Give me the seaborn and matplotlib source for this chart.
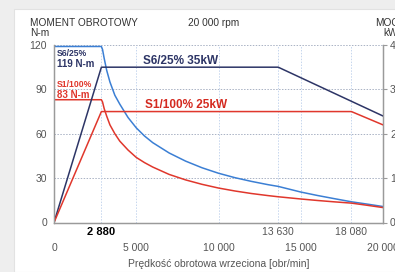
import numpy as np
import pandas as pd
import matplotlib
matplotlib.use("Agg")
import matplotlib.pyplot as plt
from matplotlib.patches import Rectangle
import seaborn as sns

# dane
rpm_torque = [0, 2880, 2950, 3050, 3200, 3400, 3700, 4000, 4500, 5000, 5500, 6000, 7000, 8000, 9000,
              10000, 11000, 12000, 13000, 13630, 15000, 16000, 17000, 18080, 19000, 20000]
s6_torque = [119, 119, 117, 111, 103, 95, 86, 80, 71, 64, 58.5, 54, 47, 41.5, 37,
             33.3, 30.3, 27.8, 25.6, 24.4, 20.6, 18.3, 16.2, 14.0, 12.5, 10.8]
s1_torque = [83, 83, 81.5, 77, 72, 66, 60, 55, 49, 44, 40.5, 37.5, 32.5, 28.8, 25.8,
             23.3, 21.3, 19.6, 18.2, 17.4, 15.9, 14.9, 14.0, 13.1, 11.7, 10.1]

rpm_s6_power = [0, 2880, 13630, 20000]
s6_power = [0, 35, 35, 24]
rpm_s1_power = [0, 2880, 18080, 20000]
s1_power = [0, 25, 25, 22]

major_x = [0, 5000, 10000, 15000, 20000]
major_x_labels = ["0", "5 000", "10 000", "15 000", "20 000"]
special_x = [2880, 13630, 18080]
special_x_labels = ["2 880", "13 630", "18 080"]

NAVY = "#2d3566"
BLUE = "#3b7fd4"
RED = "#e0372c"
GRAY = "#555555"

sns.set_theme(style="white")
plt.rcParams["font.family"] = ["Liberation Sans", "DejaVu Sans"]

fig = plt.figure(figsize=(3.95, 2.72), dpi=100)
fig.patch.set_facecolor("#eeeeee")
fig.patches.append(Rectangle((14 / 395, 0), 1, 1 - 9 / 272, transform=fig.transFigure,
                             facecolor="white", edgecolor="#e2e2e2", lw=0.8, zorder=-5))

ax = fig.add_axes([54 / 395, 1 - 222.5 / 272, 329 / 395, 177.5 / 272])
ax.set_facecolor("none")
ax2 = ax.twinx()

df_t = pd.DataFrame({"rpm": rpm_torque, "s6": s6_torque, "s1": s1_torque})
sns.lineplot(data=df_t, x="rpm", y="s6", ax=ax, color=BLUE, lw=1.1, sort=False, estimator=None)
sns.lineplot(data=df_t, x="rpm", y="s1", ax=ax, color=RED, lw=1.1, sort=False, estimator=None)

sns.lineplot(x=rpm_s6_power, y=s6_power, ax=ax2, color=NAVY, lw=1.1, sort=False, estimator=None)
sns.lineplot(x=rpm_s1_power, y=s1_power, ax=ax2, color=RED, lw=1.1, sort=False, estimator=None)

ax.set_xlim(0, 20000)
ax.set_ylim(0, 120)
ax2.set_ylim(0, 40)
ax2.set_ylabel("")

# siatka
for v in [30, 60, 90, 120]:
    ax.axhline(v, color="#a9b2c4", lw=0.7, ls=(0, (1.5, 1.5)), zorder=0)
for v in [2880, 5000, 10000, 13630, 15000, 18080]:
    ax.axvline(v, color="#c6d6ee", lw=0.7, ls=(0, (1.5, 1.5)), zorder=0)

for a in (ax, ax2):
    a.spines["top"].set_visible(False)
    for s in ["left", "bottom", "right"]:
        a.spines[s].set_color("#9a9a9a")
        a.spines[s].set_linewidth(0.9)

ax.set_yticks([0, 30, 60, 90, 120])
ax.tick_params(axis="y", labelsize=7.5, colors=GRAY, length=0, pad=5)
ax2.set_yticks([0, 10, 20, 30, 40])
ax2.tick_params(axis="y", labelsize=7.5, colors=GRAY, length=3, width=0.8,
                direction="out", pad=2, color="#9a9a9a")

ax.set_xticks(major_x)
ax.set_xticklabels(major_x_labels)
ax.set_xticks(special_x, minor=True)
ax.set_xticklabels(special_x_labels, minor=True)
ax.tick_params(axis="x", which="major", labelsize=7.5, colors=GRAY, length=2, pad=13)
ax.tick_params(axis="x", which="minor", labelsize=7.5, colors=GRAY, length=0, pad=3)
for lbl in ax.get_xticklabels(minor=True):
    if lbl.get_text() == "2 880":
        lbl.set_fontweight("bold")
        lbl.set_color("black")
        lbl.set_fontsize(8)

ax.set_ylabel("")
ax.set_xlabel("Prędkość obrotowa wrzeciona [obr/min]", fontsize=7.5, color=GRAY, labelpad=4)

# opisy
def fy(py):
    return 1 - py / 272

fig.text(30 / 395, fy(23.5), "MOMENT OBROTOWY", fontsize=7.3, color="#333333", va="center", ha="left")
fig.text(30 / 395, fy(32.5), "N-m", fontsize=7.3, color="#333333", va="center", ha="left")
fig.text(214 / 395, fy(23.5), "20 000 rpm", fontsize=7.3, color="#333333", va="center", ha="center")
fig.text(375 / 395, fy(23.5), "MOC", fontsize=7.3, color="#333333", va="center", ha="left")
fig.text(383 / 395, fy(32.5), "kW", fontsize=7.3, color="#333333", va="center", ha="left")

fig.text(57 / 395, fy(53.5), "S6/25%", fontsize=6.2, color=NAVY, fontweight="bold", va="center")
fig.text(57 / 395, fy(64), "119 N-m", fontsize=7, color=NAVY, fontweight="bold", va="center")
fig.text(57 / 395, fy(84.5), "S1/100%", fontsize=6.2, color=RED, fontweight="bold", va="center")
fig.text(57 / 395, fy(95), "83 N-m", fontsize=7, color=RED, fontweight="bold", va="center")

fig.text(143 / 395, fy(61.5), "S6/25% 35kW", fontsize=8.5, color=NAVY, fontweight="bold", va="center")
fig.text(145 / 395, fy(105), "S1/100% 25kW", fontsize=8.5, color="#d42a20", fontweight="bold", va="center")

fig.savefig("out.png", dpi=100, facecolor=fig.get_facecolor())
